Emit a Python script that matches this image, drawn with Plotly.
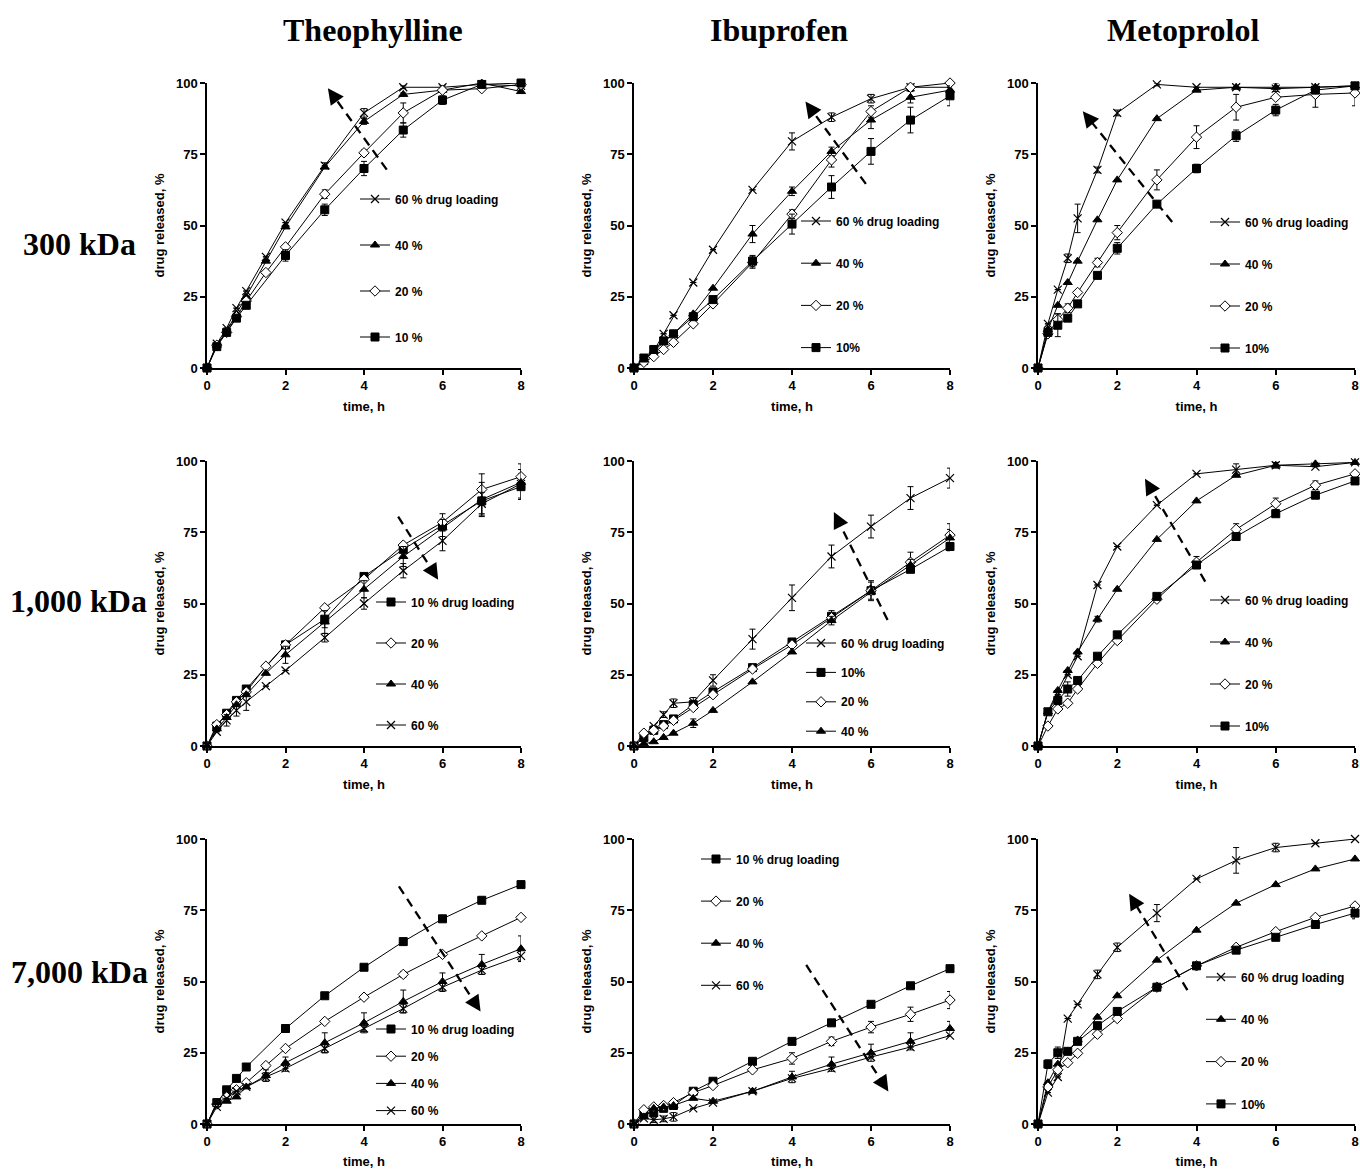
import plotly.graph_objects as go

# ---------------- data ----------------
time_h = [0, 0.25, 0.5, 0.75, 1, 1.5, 2, 3, 4, 5, 6, 7, 8]

# Theophylline, 300 kDa
theo300_60 = [0, 8.5, 14, 21, 27, 39, 51, 71, 89.5, 98.5, 98.5, 99.5, 99]
theo300_40 = [0, 8, 13, 19, 25, 37.5, 49.5, 70.5, 86.5, 96, 97.5, 100, 97]
theo300_20 = [0, 8, 12.5, 18, 23.5, 33.5, 42.5, 61, 75.5, 89.5, 97.5, 98, 99.5]
theo300_10 = [0, 7.5, 12.5, 17.5, 22, None, 39.5, 55.5, 70, 83.5, 94, 99.5, 100]
theo300_60_err = [0, 0, 0, 0, 0, 0, 0, 1, 1.5, 0.5, 0.5, 0, 0]
theo300_40_err = [0, 0, 0, 0, 0, 0, 0, 0.5, 1, 0.5, 0.5, 0, 0]
theo300_20_err = [0, 0, 0, 0, 0, 0, 0, 1.5, 1, 3.5, 0.5, 0.5, 0]
theo300_10_err = [0, 0, 0, 0, 0, 0, 2, 2, 2.5, 2.5, 1.5, 0.5, 0]

# Ibuprofen, 300 kDa
ibu300_60 = [0, 2.5, 6, 12, 18.5, 30, 41.5, 62.5, 79.5, 88, 94.5, 98.5, 98.5]
ibu300_40 = [0, 3, 6, 9, 12, 19, 28, 47, 62, 76, 87, 95, 97.5]
ibu300_20 = [0, 2, 4, 6.5, 9, 15.5, 22.5, 37, 54, 73, 90, 98.5, 100]
ibu300_10 = [0, 3.5, 6.5, 9.5, 12, 18, 24, 37.5, 50.5, 63.5, 76, 87, 95.5]
ibu300_60_err = [0, 0, 0, 0, 0, 0, 0, 0, 3, 1.5, 1.5, 1, 0]
ibu300_40_err = [0, 0, 0, 0, 0, 0, 0, 3, 1.5, 1.5, 3, 2, 0]
ibu300_20_err = [0, 0, 0, 0, 0, 0, 0, 2, 1.5, 2.5, 2, 1, 0]
ibu300_10_err = [0, 0, 0, 0, 0, 0, 0, 2, 3.5, 4, 4.5, 4.5, 3.5]

# Metoprolol, 300 kDa
meto300_60 = [0, 15.5, 27.5, 38.5, 52.5, 69.5, 89.5, 99.5, 98.5, 98.5, 98, 98.5, 99]
meto300_40 = [0, 13.5, 22, 30, 37.5, 52, 66, 87.5, 97.5, 98.5, 98.5, 98.5, 99]
meto300_20 = [0, 12, 17, 21, 26.5, 37, 47.5, 66, 81, 91.5, 95, 96, 96.5]
meto300_10 = [0, 12.5, 15, 17.5, 22.5, 32.5, 42, 57.5, 70, 81.5, 90.5, 97.5, 99]
meto300_60_err = [0, 0, 0, 1.5, 5, 1, 1, 0.5, 0, 0, 0, 0, 0]
meto300_40_err = [0, 0, 0, 0, 0, 0, 0, 0, 0, 0, 1.5, 0, 0]
meto300_20_err = [0, 0, 2, 1.5, 0, 1.5, 2.5, 3.5, 4, 4.5, 0, 4.5, 4.5]
meto300_10_err = [0, 0, 4, 0, 0, 0, 2, 0, 1.5, 2, 2, 0, 0]

# Theophylline, 1,000 kDa
theo1000_10 = [0, 7, 11.5, 16, 20, None, 35.5, 44.5, 59.5, 69, 77.5, 86, 91]
theo1000_20 = [0, 7.5, 11, 15.5, 19, 28, 35.5, 48.5, 58.5, 70.5, 78.5, 90, 94.5]
theo1000_40 = [0, 6, 10, 14.5, 18, 25.5, 32, 43.5, 55, 66.5, 76.5, 86.5, 92.5]
theo1000_60 = [0, 5, 9, 12.5, 15.5, 21, 26.5, 38, 50, 61.5, 72, 85, 92]
theo1000_10_err = [0, 0, 0, 0, 0, 0, 0, 3, 0, 0, 1.5, 4.5, 4.5]
theo1000_20_err = [0, 0, 0, 0, 0, 0, 0, 0, 0, 0, 3, 5.5, 4.5]
theo1000_40_err = [0, 0, 0, 0, 0, 0, 3, 4, 3, 3.5, 3, 6, 0]
theo1000_60_err = [0, 0, 2, 2, 3, 0, 0, 1.5, 2, 2.5, 3.5, 4, 5]

# Ibuprofen, 1,000 kDa
ibu1000_60 = [0, 3, 7, 11, 15, 15.5, 23, 37.5, 52, 66.5, 77, 87, 94]
ibu1000_10 = [0, 3, 5.5, 7.5, 9.5, 14.5, 19, 27.5, 36.5, 45.5, 54.5, 62, 70]
ibu1000_20 = [0, 4.5, 5.5, 7, 9, 13.5, 18, 27, 35.5, 45, 54.5, 64.5, 74]
ibu1000_40 = [0, 0.8, 1.5, 3, 4.5, 8, 12.5, 22.5, 33, 44, 54, 63.5, 73]
ibu1000_60_err = [0, 0, 0, 1, 1.5, 1.5, 2, 3.5, 4.5, 4, 4, 4, 3.5]
ibu1000_10_err = [0, 0, 0, 0, 0, 0, 0, 0, 0, 2, 3, 0, 1.5]
ibu1000_20_err = [0, 0, 0, 0, 0, 0, 0, 0, 0, 0, 3.5, 3.5, 4]
ibu1000_40_err = [0, 0, 0, 0, 0, 1.5, 0, 0, 0, 1.5, 0, 2, 3]

# Metoprolol, 1,000 kDa
meto1000_60 = [0, 12, 18, 25, 31.5, 56.5, 70, 84.5, 95.5, 97, 98.5, 98, 99.5]
meto1000_40 = [0, 12, 19.5, 26.5, 33, 44.5, 55, 72.5, 86, 95, 98.5, 99, 99.5]
meto1000_20 = [0, 7, 13, 15, 20, 29, 37, 51.5, 64.5, 76, 85, 91.5, 95.5]
meto1000_10 = [0, 12, 16, 20, 23, 31.5, 39, 52.5, 63.5, 73.5, 81.5, 88, 93]
meto1000_60_err = [0, 0, 0, 0, 0, 0, 0, 0, 0, 2, 1, 0, 0]
meto1000_40_err = [0, 0, 0, 0, 0, 1, 0, 0, 0, 0, 0, 0, 0]
meto1000_20_err = [0, 0, 0, 0, 0, 0, 0, 0, 2, 2, 2, 1.5, 0]
meto1000_10_err = [0, 0, 1.5, 2.5, 0, 0, 0, 0, 0, 0, 0, 0, 0]

# Theophylline, 7,000 kDa
theo7000_10 = [0, 7.5, 12, 16, 20, None, 33.5, 45, 55, 64, 72, 78.5, 84]
theo7000_20 = [0, 7, 9.5, 12, 14.5, 20.5, 26.5, 36, 44.5, 52.5, 59.5, 66, 72.5]
theo7000_40 = [0, 7.5, 8, 9.5, 13, 17, 21.5, 28.5, 35.5, 43, 50, 56, 61.5]
theo7000_60 = [0, 6, 9, 11.5, 13, 16.5, 19.5, 26.5, 33.5, 40.5, 48, 54, 59]
theo7000_10_err = [0, 0, 0, 0, 0, 0, 0, 0, 0, 0, 0, 0, 0]
theo7000_20_err = [0, 0, 0, 0, 0, 0, 0, 0, 0, 1, 0, 0, 0]
theo7000_40_err = [0, 0, 0, 0, 0, 2, 2, 3.5, 3.5, 4, 3, 3.5, 4.5]
theo7000_60_err = [0, 0, 0, 0, 0, 1.5, 1, 1.5, 1, 1.5, 1.5, 1.5, 1.5]

# Ibuprofen, 7,000 kDa
ibu7000_10 = [0, 3.5, 4, 5.5, 6.5, 11.5, 15, 22, 29, 35.5, 42, 48.5, 54.5]
ibu7000_20 = [0, 5, 6, 6.5, 7.5, 11, 13.5, 19, 23, 29, 34, 38.5, 43.5]
ibu7000_40 = [0, 2.5, 5.5, 6, 6.5, 9, 8, 11.5, 16.5, 21, 25, 29, 33.5]
ibu7000_60 = [0, 2, 1.5, 1.8, 2.5, 5.5, 7.5, 11.5, 16, 19.5, 23.5, 27, 31]
ibu7000_10_err = [0, 0, 0, 0, 0, 0, 0, 0, 0, 0, 0, 0, 0]
ibu7000_20_err = [0, 0, 0, 0, 0, 0, 0, 0, 2, 1.5, 2, 2.5, 3]
ibu7000_40_err = [0, 0, 0, 0, 0, 0, 0, 0, 2, 2.5, 3, 3, 2.5]
ibu7000_60_err = [0, 0, 1, 1, 1.5, 0, 0, 0, 0, 0, 0, 0, 0]

# Metoprolol, 7,000 kDa
meto7000_60 = [0, 11, 16.5, 37, 42, 52.5, 62, 74, 86, 92.5, 97, 98.5, 100]
meto7000_40 = [0, 14.5, 21, 25.5, 29.5, 37.5, 45, 57.5, 68, 77.5, 84, 89.5, 93]
meto7000_20 = [0, 13, 19, 21.5, 24.8, 31.5, 37, 48, 55.5, 62, 67.5, 72.5, 76.5]
meto7000_10 = [0, 21, 25, 25.5, 29, 34.5, 39.5, 48, 55.5, 61, 65.5, 70, 74]
meto7000_60_err = [0, 0, 0, 0, 0, 1.5, 1.5, 3, 0, 4.5, 1.5, 0, 0]
meto7000_40_err = [0, 0, 0, 0, 0, 0, 0, 0, 0, 0, 0, 0, 0]
meto7000_20_err = [0, 0, 0, 0, 0, 0, 0, 0, 0, 0, 0, 0, 0]
meto7000_10_err = [0, 1.5, 2, 0, 0, 0, 0, 0, 0, 0, 0, 0, 2]

drug_names = ["Theophylline", "Ibuprofen", "Metoprolol"]
mw_labels = ["300 kDa", "1,000 kDa", "7,000 kDa"]
x_ticks = [0, 2, 4, 6, 8]
y_ticks = [0, 25, 50, 75, 100]

# panel series (in legend order): (loading key, label, values, errors)
panels = [
    [("60", "60 % drug loading", theo300_60, theo300_60_err), ("40", "40 %", theo300_40, theo300_40_err),
     ("20", "20 %", theo300_20, theo300_20_err), ("10", "10 %", theo300_10, theo300_10_err)],
    [("60", "60 % drug loading", ibu300_60, ibu300_60_err), ("40", "40 %", ibu300_40, ibu300_40_err),
     ("20", "20 %", ibu300_20, ibu300_20_err), ("10", "10%", ibu300_10, ibu300_10_err)],
    [("60", "60 % drug loading", meto300_60, meto300_60_err), ("40", "40 %", meto300_40, meto300_40_err),
     ("20", "20 %", meto300_20, meto300_20_err), ("10", "10%", meto300_10, meto300_10_err)],
    [("10", "10 % drug loading", theo1000_10, theo1000_10_err), ("20", "20 %", theo1000_20, theo1000_20_err),
     ("40", "40 %", theo1000_40, theo1000_40_err), ("60", "60 %", theo1000_60, theo1000_60_err)],
    [("60", "60 % drug loading", ibu1000_60, ibu1000_60_err), ("10", "10%", ibu1000_10, ibu1000_10_err),
     ("20", "20 %", ibu1000_20, ibu1000_20_err), ("40", "40 %", ibu1000_40, ibu1000_40_err)],
    [("60", "60 % drug loading", meto1000_60, meto1000_60_err), ("40", "40 %", meto1000_40, meto1000_40_err),
     ("20", "20 %", meto1000_20, meto1000_20_err), ("10", "10%", meto1000_10, meto1000_10_err)],
    [("10", "10 % drug loading", theo7000_10, theo7000_10_err), ("20", "20 %", theo7000_20, theo7000_20_err),
     ("40", "40 %", theo7000_40, theo7000_40_err), ("60", "60 %", theo7000_60, theo7000_60_err)],
    [("10", "10 % drug loading", ibu7000_10, ibu7000_10_err), ("20", "20 %", ibu7000_20, ibu7000_20_err),
     ("40", "40 %", ibu7000_40, ibu7000_40_err), ("60", "60 %", ibu7000_60, ibu7000_60_err)],
    [("60", "60 % drug loading", meto7000_60, meto7000_60_err), ("40", "40 %", meto7000_40, meto7000_40_err),
     ("20", "20 %", meto7000_20, meto7000_20_err), ("10", "10%", meto7000_10, meto7000_10_err)],
]

# trend arrows (tail time, tail %, head time, head %)
arrows = [
    (4.58, 69.6, 3.08, 98.2),
    (5.87, 64.6, 4.34, 93.5),
    (3.385, 51.2, 1.13, 90.1),
    (4.87, 80.5, 5.89, 58.3),
    (6.42, 44.2, 5.06, 82.1),
    (4.22, 57.7, 2.70, 93.8),
    (4.89, 83.4, 6.97, 39.5),
    (4.36, 55.8, 6.44, 11.4),
    (3.77, 47.0, 2.30, 80.8),
]

# ---------------- layout geometry ----------------
W, H = 1360, 1169
col_px = [(207, 521), (634, 950), (1038, 1355)]
row_px = [(83, 368), (461, 746), (839, 1124)]
# legend: (text start x px, first entry centre y px, entry spacing px)
legend_pos = [
    (397, 199, 46), (838, 221, 42.2), (1247, 222, 42),
    (413, 602, 41), (843, 643, 29.4), (1247, 600, 42),
    (413, 1029, 27.2), (738, 859, 42.1), (1243, 977, 42.3),
]

BLACK = "#000000"
TICK_FONT = dict(family="Liberation Sans, Arial, sans-serif", size=13, color=BLACK, weight="bold")
AX_FONT = dict(family="Liberation Sans, Arial, sans-serif", size=13, color=BLACK, weight="bold")
LEG_FONT = dict(family="Liberation Sans, Arial, sans-serif", size=12, color=BLACK, weight="bold")
TITLE_FONT = dict(family="Liberation Serif, Times New Roman, serif", size=32, color=BLACK, weight="bold")

marker_styles = {
    "10": dict(symbol="square", size=8, color=BLACK, line=dict(color=BLACK, width=1)),
    "20": dict(symbol="diamond", size=8, color="white", line=dict(color=BLACK, width=1)),
    "40": dict(symbol="triangle-up", size=8, color=BLACK, line=dict(color=BLACK, width=1)),
    "60": dict(symbol="x-thin", size=8, color=BLACK, line=dict(color=BLACK, width=1.2)),
}

fig = go.Figure()
layout = dict(
    width=W, height=H, margin=dict(l=0, r=0, t=0, b=0, autoexpand=False),
    paper_bgcolor="white", plot_bgcolor="white", showlegend=True,
)
annotations = []
shapes = []

for k in range(9):
    r, c = divmod(k, 3)
    s = "" if k == 0 else str(k + 1)
    x0, x1 = col_px[c]
    y0, y1 = row_px[r]
    common = dict(
        showline=True, linecolor=BLACK, linewidth=1.5, mirror=False,
        ticks="outside", ticklen=5, tickwidth=1.5, tickcolor=BLACK,
        showgrid=False, zeroline=False, tickfont=TICK_FONT, fixedrange=True,
        automargin=False,
    )
    layout[f"xaxis{s}"] = dict(
        domain=[x0 / W, x1 / W], range=[0, 8], anchor=f"y{s}",
        tickmode="array", tickvals=x_ticks,
        title=dict(text="time, h", font=AX_FONT, standoff=10), **common)
    layout[f"yaxis{s}"] = dict(
        domain=[1 - y1 / H, 1 - y0 / H], range=[0, 100], anchor=f"x{s}",
        tickmode="array", tickvals=y_ticks,
        title=dict(text="drug released, %", font=AX_FONT, standoff=8), **common)

    lname = "legend" if k == 0 else f"legend{k + 1}"
    tx, ty, sp = legend_pos[k]
    layout[lname] = dict(
        x=(tx - 42) / W, y=1 - (ty - 14.5) / H, xanchor="left", yanchor="top",
        bgcolor="rgba(0,0,0,0)", borderwidth=0, font=LEG_FONT,
        traceorder="grouped", tracegroupgap=max(sp - 19, 0), itemwidth=30,
    )

    for key, label, vals, errs in panels[k]:
        fig.add_trace(go.Scatter(
            x=time_h, y=vals, mode="lines+markers", name=label,
            xaxis=f"x{s}", yaxis=f"y{s}", legend=lname, legendgroup=f"p{k}_{key}",
            connectgaps=True, cliponaxis=False,
            line=dict(color=BLACK, width=1),
            marker=marker_styles[key],
            error_y=dict(type="data", array=errs, visible=True, color=BLACK, thickness=1, width=3),
        ))

    # dashed trend arrow
    tx0, ty0, hx, hy = arrows[k]
    pxx = (x1 - x0) / 8.0
    pxy = (y1 - y0) / 100.0
    dxp = (hx - tx0) * pxx
    dyp = -(hy - ty0) * pxy
    L = (dxp ** 2 + dyp ** 2) ** 0.5
    ux, uy = dxp / L, dyp / L
    short = 12.0
    ex = hx - ux * short / pxx
    ey = hy + uy * short / pxy
    shapes.append(dict(type="line", xref=f"x{s}", yref=f"y{s}", x0=tx0, y0=ty0, x1=ex, y1=ey,
                       line=dict(color=BLACK, width=2.3, dash="9px,6px")))
    annotations.append(dict(xref=f"x{s}", yref=f"y{s}", x=hx, y=hy, ax=-ux * 16, ay=-uy * 16,
                            axref="pixel", ayref="pixel", text="", showarrow=True,
                            arrowhead=2, arrowsize=1.6, arrowwidth=2, arrowcolor=BLACK, standoff=0))

# column titles and row labels
col_centers = [373, 779, 1183]
for c, name in enumerate(drug_names):
    annotations.append(dict(xref="paper", yref="paper", x=col_centers[c] / W, y=1 - 30 / H,
                            text=name, showarrow=False, font=TITLE_FONT,
                            xanchor="center", yanchor="middle"))
row_centers = [(79, 244), (78, 601), (79, 972)]
for r, name in enumerate(mw_labels):
    cx, cy = row_centers[r]
    annotations.append(dict(xref="paper", yref="paper", x=cx / W, y=1 - cy / H,
                            text=name, showarrow=False, font=TITLE_FONT,
                            xanchor="center", yanchor="middle"))

layout["annotations"] = annotations
layout["shapes"] = shapes
fig.update_layout(**layout)

fig.write_html(
    "out.html",
    config={"displayModeBar": False},
    post_script="document.body.style.margin='0';document.body.style.overflow='hidden';",
)
